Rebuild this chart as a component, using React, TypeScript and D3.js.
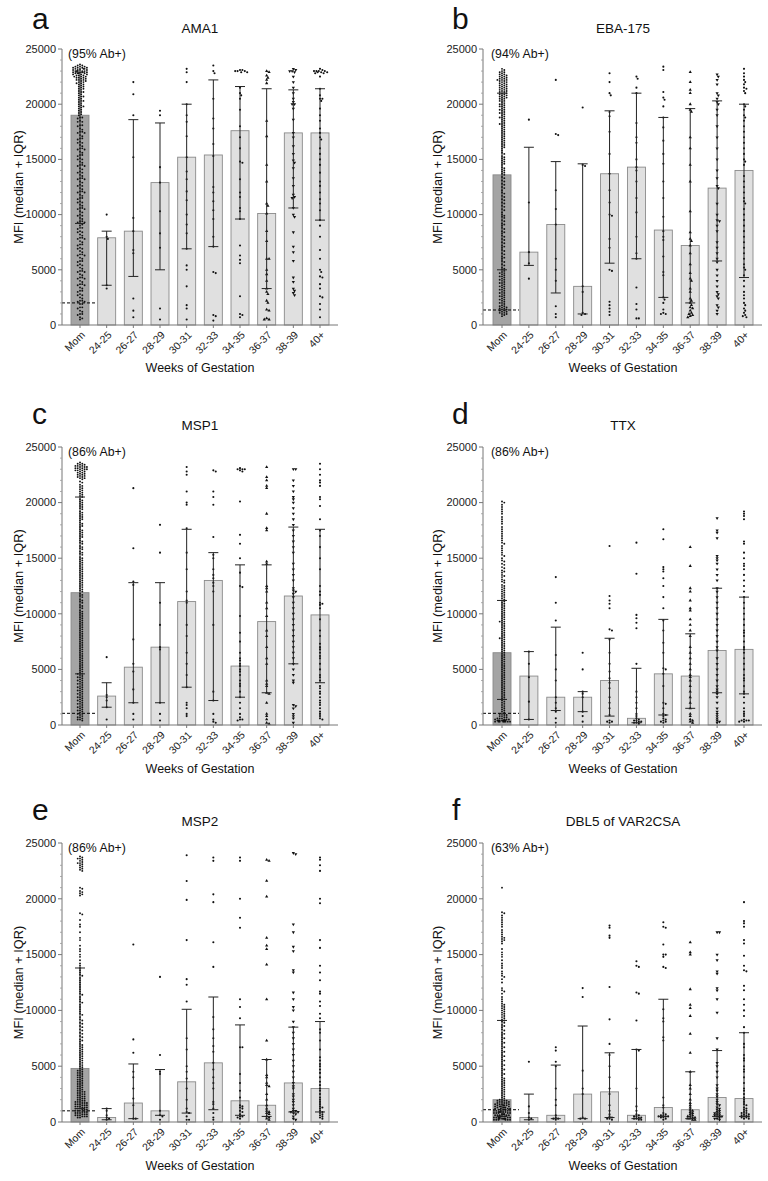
import React from 'react';
import * as d3 from 'd3';

// ---------------- DATA ----------------
const categories = ['Mom', '24-25', '26-27', '28-29', '30-31', '32-33', '34-35', '36-37', '38-39', '40+'];
const yTicks = [0, 5000, 10000, 15000, 20000, 25000];
const yMinorStep = 1000;

const panelLetters = ['a', 'b', 'c', 'd', 'e', 'f'];
const panelTitles = ['AMA1', 'EBA-175', 'MSP1', 'TTX', 'MSP2', 'DBL5 of VAR2CSA'];
const abPositive = ['(95% Ab+)', '(94% Ab+)', '(86% Ab+)', '(86% Ab+)', '(86% Ab+)', '(63% Ab+)'];
const cutoffs = [2000, 1360, 1050, 1050, 1000, 1100];

// values in hundreds of MFI
const medians = [
  [190, 79, 85, 129, 152, 154, 176, 101, 174, 174],
  [136, 66, 91, 35, 137, 143, 86, 72, 124, 140],
  [119, 26, 52, 70, 111, 130, 53, 93, 116, 99],
  [65, 44, 25, 25, 40, 6, 46, 44, 67, 68],
  [48, 4, 17, 10, 36, 53, 19, 15, 35, 30],
  [20, 4, 6, 25, 27, 6, 13, 11, 22, 21],
];
const q1s = [
  [92, 36, 44, 50, 69, 71, 96, 33, 106, 95],
  [50, 54, 29, 10, 56, 60, 25, 20, 58, 43],
  [46, 16, 20, 20, 34, 22, 25, 29, 55, 38],
  [23, 5, 13, 12, 8, 2, 9, 15, 29, 28],
  [12, 2, 3, 6, 8, 11, 6, 5, 9, 9],
  [5, 2, 3, 3, 4, 3, 5, 3, 5, 5],
];
const q3s = [
  [229, 85, 186, 183, 200, 222, 216, 214, 213, 214],
  [210, 161, 148, 146, 194, 210, 188, 196, 203, 200],
  [205, 38, 128, 128, 176, 155, 144, 144, 178, 176],
  [112, 66, 88, 30, 78, 51, 95, 82, 123, 115],
  [138, 12, 52, 47, 101, 112, 87, 56, 85, 90],
  [91, 25, 51, 86, 62, 65, 110, 45, 64, 80],
];

const dotsAMA1 = [
  '236 235 235 234 234 234 233 233 233 233 232 232 232 232 231 231 231 231 230 230 230 230 230 229 229 229 229 228 228 228 228 227 227 227 226 226 226 225 225 225 224 224 224 223 223 222 222 222 221 221 220 220 219 219 218 218 217 216 216 215 214 214 213 212 211 211 210 209 208 207 207 206 205 204 203 203 202 201 200 199 198 198 197 196 195 194 193 192 191 190 188 188 187 185 184 184 181 181 180 178 177 175 175 174 174 172 171 169 169 168 166 165 165 163 162 160 160 159 159 157 156 154 154 153 151 150 150 148 147 145 145 144 144 142 141 139 138 138 136 135 133 133 132 132 130 129 127 126 126 124 123 121 121 120 120 118 117 115 115 114 112 111 111 109 108 106 106 105 105 103 102 100 99 99 97 96 94 94 93 93 92 91 90 88 88 87 85 84 84 82 81 79 79 78 78 76 75 73 73 72 70 69 69 67 66 64 64 63 63 61 60 58 58 57 55 54 54 52 51 49 49 48 48 46 45 43 43 42 42 40 39 37 37 36 36 34 33 31 31 30 28 27 27 25 24 22 22 21 21 19 19 16 16 15 13 12 10 10 9 7 6 5',
  '100 80 78 36 33',
  '220 209 190 152 97 85 68 65 24 13 7',
  '194 190 143 129 103 83 70 15 5',
  '232 229 220 200 190 184 171 152 139 132 121 113 100 91 83 69 54 50 35 18 15 5',
  '235 230 228 205 187 178 164 153 125 120 112 104 96 80 71 48 47 9 8 4',
  '231 231 230 230 230 229 229 215 210 208 205 195 180 170 160 148 147 132 120 116 106 103 96 72 63 59 56 26 10 9 7',
  '230 229 226 224 222 219 185 171 145 130 110 108 101 85 76 60 60 50 46 40 33 30 28 22 20 14 13 6 5 5',
  '232 231 230 230 229 225 220 215 210 205 202 200 200 196 186 174 170 162 155 149 147 142 133 126 118 116 115 106 100 98 84 71 66 58 43 39 33 31 29 27',
  '232 231 230 230 230 230 229 229 229 228 228 225 214 208 205 205 203 196 190 185 178 174 170 168 160 155 150 145 138 130 126 120 114 110 104 95 90 80 68 60 50 48 44 43 37 33 26 25 19 14 7',
];
const dotsEBA175 = [
  '232 231 230 229 229 228 227 227 226 226 225 225 224 224 223 223 222 222 222 221 221 220 220 219 219 218 218 217 217 216 216 215 215 214 214 213 213 212 212 211 211 210 210 209 209 208 208 207 207 206 206 205 205 204 203 203 202 201 200 200 199 198 198 197 196 195 195 194 193 192 192 191 190 189 188 188 187 186 185 184 183 182 182 181 180 179 178 177 176 175 174 173 172 171 170 169 168 167 166 165 164 163 162 161 160 158 156 155 153 152 151 150 149 148 147 146 145 143 142 141 140 139 138 137 136 134 133 131 130 128 127 125 124 122 120 119 117 116 114 113 111 110 108 107 105 104 102 100 99 98 97 95 94 92 91 90 88 87 85 84 83 81 80 78 77 75 74 72 71 70 68 67 65 64 62 61 60 58 57 55 54 52 51 50 49 48 47 47 46 45 44 44 43 42 41 41 40 39 38 38 37 36 35 35 34 33 32 32 31 30 29 29 28 27 26 26 25 24 23 23 22 21 20 20 19 18 17 17 16 16 15 15 14 14 13 13 12 12 11 11 10 10 9 8',
  '186 111 66 56 42',
  '222 173 172 122 105 91 60 50 40 17 10 7',
  '197 145 144 35 30 11 10 9',
  '228 220 210 208 193 189 175 155 137 122 111 100 99 78 70 50 49 21 18 15 12 9',
  '225 223 215 210 183 170 165 150 143 140 130 115 102 80 65 60 34 19 14 6 6',
  '234 231 211 206 204 198 188 179 167 155 146 130 115 98 85 80 77 62 48 45 25 23 20 14 11 10 10',
  '229 220 213 210 200 195 193 170 160 145 130 103 84 78 76 72 65 55 47 42 40 33 30 24 22 20 18 16 15 13 11 10 9 8 7',
  '227 225 222 218 210 208 205 202 200 195 190 180 170 160 150 140 133 126 124 110 100 95 94 90 85 75 70 65 60 57 50 45 40 35 30 28 26 24 18 16 13 10',
  '232 228 225 222 220 218 215 214 212 210 200 198 195 190 188 185 180 175 170 165 160 155 150 148 145 135 130 125 120 115 112 110 105 100 95 90 85 80 75 70 65 60 55 52 50 45 40 35 30 27 24 20 18 15 13 11 9 8 7',
];
const dotsMSP1 = [
  '236 235 235 234 234 233 233 233 232 232 232 231 231 231 230 230 230 229 229 229 228 228 227 227 226 226 225 225 224 224 223 223 222 222 221 219 218 216 215 214 213 212 211 210 209 208 207 206 205 203 202 201 200 199 198 197 196 195 194 192 191 190 189 188 187 186 185 184 182 181 180 179 178 176 175 174 173 172 171 170 169 168 166 165 164 163 161 160 159 158 156 155 154 153 151 150 149 148 147 146 145 144 143 142 141 140 139 138 137 136 135 134 133 132 131 130 129 128 127 126 125 124 123 122 121 120 118 117 116 115 113 112 111 110 108 107 106 105 103 102 101 100 99 98 97 96 95 94 93 92 91 90 89 88 87 86 85 84 83 82 81 80 79 78 77 76 75 74 73 72 71 70 69 68 67 66 65 64 63 62 61 60 59 58 57 56 55 54 53 52 51 50 49 48 47 46 46 45 44 43 43 42 41 40 40 39 38 37 37 36 35 34 34 33 32 31 31 30 29 28 28 27 26 25 25 24 23 22 22 21 20 19 19 18 17 16 16 15 14 13 13 12 11 10 10 9 8 7 7 6 5 5 4',
  '61 27 25 22 16 5',
  '213 159 129 126 77 55 48 32 20 10 5',
  '180 155 110 90 70 68 20 10 4',
  '232 228 225 210 200 198 177 155 140 120 112 110 90 80 65 55 45 34 20 18 15 10 8',
  '229 228 210 205 198 169 153 150 140 135 132 128 125 120 90 30 22 10 5 3 2',
  '231 230 230 230 229 228 201 171 163 150 137 125 124 98 83 75 65 60 58 55 53 50 48 45 40 37 35 30 25 20 15 10 7 5 5 4',
  '232 223 220 215 213 190 177 175 147 145 125 123 120 110 105 98 85 80 70 60 55 40 37 35 29 28 20 10 8 5 2 1',
  '230 230 220 215 210 205 203 200 195 190 185 180 175 170 165 160 155 145 140 135 130 123 121 120 118 115 110 105 100 95 90 85 80 75 70 65 60 55 50 45 40 38 18 17 15 10 8 6 2',
  '235 230 225 220 218 215 205 203 197 185 175 170 160 150 140 125 120 117 110 109 108 105 95 85 80 73 70 68 65 62 60 55 50 45 43 40 35 33 30 28 25 22 20 18 15 12 10 8 6 5',
];
const dotsTTX = [
  '201 200 198 196 194 192 190 187 185 183 181 178 176 174 172 170 168 166 164 163 161 159 157 155 153 152 150 148 147 145 144 142 141 139 138 137 135 134 133 131 130 129 128 126 125 124 123 122 121 120 119 118 117 116 115 114 113 112 111 110 109 108 107 106 105 104 103 102 101 100 99 98 97 96 95 94 93 93 92 91 90 89 88 87 86 85 84 83 82 81 80 79 78 78 77 76 75 74 73 72 71 70 69 68 67 66 65 64 63 62 61 60 59 58 57 56 55 54 53 52 51 50 49 48 47 46 45 44 43 42 41 40 39 38 37 36 35 34 33 32 31 30 29 28 27 26 25 24 23 22 21 20 19 18 17 16 15 14 13 12 11 10 10 9 9 8 8 7 7 6 6 6 5 5 5 5 4 4 4 4 4 4 4 3 3 3 3 3 3 3 3',
  '66 55 43 21 5',
  '133 110 94 63 50 40 25 20 15 12 6 2',
  '65 50 30 28 25 12 8 3',
  '161 116 112 109 105 86 85 77 65 55 48 42 38 33 25 20 15 9 4 3 3 2',
  '164 136 99 96 92 87 55 30 25 20 15 10 8 6 5 4 4 3 3 2 2 1',
  '176 167 142 140 138 132 125 115 105 94 85 74 65 51 50 46 35 20 19 15 10 9 8 6 5 4 3 3 2',
  '160 143 123 120 112 105 103 95 90 85 80 70 65 60 55 50 45 43 40 35 30 25 20 15 10 8 5 4 3 2',
  '186 175 173 168 152 150 148 145 140 135 130 123 120 115 110 105 100 95 90 85 80 75 70 67 60 55 50 45 40 35 32 30 28 25 20 15 12 10 8 6 4 3 2',
  '192 190 188 185 165 163 155 150 145 143 140 135 130 125 120 115 110 105 100 95 90 85 83 80 75 70 68 65 60 55 50 45 42 40 35 30 28 25 20 15 12 10 8 5 4 4 4 3 3',
];
const dotsMSP2 = [
  '238 237 236 236 235 234 233 232 232 231 230 229 228 227 226 225 210 209 207 206 205 204 203 187 186 181 177 175 170 165 163 158 155 153 150 148 145 142 140 138 136 134 132 131 129 127 125 123 121 119 117 115 114 112 110 108 107 105 103 101 99 97 96 94 92 91 89 88 86 85 83 82 80 79 77 76 74 73 72 70 69 68 67 66 65 64 63 62 61 60 59 58 57 56 55 54 53 52 51 50 49 48 47 46 46 45 44 44 43 42 42 41 40 40 39 38 38 37 36 36 35 34 34 33 32 32 31 30 30 29 28 28 27 27 26 26 25 25 24 24 23 23 22 22 21 21 20 20 19 19 18 18 18 17 17 17 16 16 16 15 15 15 14 14 14 13 13 13 12 12 12 11 11 11 10 10 10 9 9 9 8 8 8 7 7 7 6 6 6 5 5 5 4 4',
  '12 10 6 4 3 2',
  '159 74 62 45 40 30 21 15 3 3',
  '130 60 45 43 10 6 5 2',
  '239 216 199 163 128 123 108 75 65 50 45 39 30 20 12 9 8 5 2 2',
  '237 234 204 197 161 139 94 83 75 68 63 53 47 40 35 30 18 16 12 8 4 2',
  '237 234 200 183 174 110 103 93 67 67 43 35 28 22 15 14 13 12 10 9 7 5 5 4 3',
  '235 234 216 202 165 158 155 141 110 73 56 42 40 35 33 32 25 20 15 12 10 9 8 7 5 4 3 2',
  '241 240 177 170 157 153 136 134 116 110 103 100 90 85 80 75 70 65 60 55 50 45 40 35 32 30 25 23 20 18 15 12 10 10 9 9 8 7 5 3 2',
  '237 235 230 225 200 196 163 156 140 134 127 117 115 108 104 97 93 83 80 73 65 58 55 52 50 47 44 40 36 33 30 28 25 22 20 18 16 14 13 12 10 9 8 7 6 5 4 3',
];
const dotsDBL5 = [
  '210 188 187 185 183 181 179 177 175 172 170 168 166 165 164 163 162 160 155 152 150 148 145 142 140 138 135 133 131 130 128 125 120 118 117 115 112 110 108 106 105 104 103 102 101 100 99 98 97 96 95 94 93 92 91 90 89 87 86 85 83 82 80 79 78 76 75 74 72 71 70 68 67 66 64 63 62 60 59 58 56 55 54 52 51 50 48 47 46 44 43 42 40 39 38 37 36 35 34 33 32 31 30 29 28 27 26 25 24 23 22 21 20 20 19 19 19 18 18 18 17 17 17 16 16 16 16 15 15 15 15 14 14 14 14 13 13 13 13 12 12 12 12 11 11 11 11 10 10 10 10 10 9 9 9 9 9 8 8 8 8 8 7 7 7 7 7 6 6 6 6 6 5 5 5 5 5 5 4 4 4 4 4 4 3 3 3 3 3 3 3 2 2 2 2 2 2',
  '54 14 8 4 3 2',
  '67 64 54 50 30 20 15 6 4 3 3 2',
  '120 112 46 30 25 4 3 3',
  '176 174 167 165 121 92 70 60 50 40 30 25 15 10 7 5 4 3 3 2',
  '144 140 139 116 115 91 65 64 30 14 10 7 6 5 5 4 4 3 3 2 2',
  '179 175 174 159 150 150 148 139 138 101 93 90 76 73 22 15 13 8 7 6 6 5 5 5 4 4 3 2',
  '161 152 150 119 105 102 95 79 62 45 33 30 25 20 17 15 13 11 10 9 8 7 6 5 5 4 4 3 3 2 2',
  '170 170 150 145 135 133 120 118 110 98 75 65 53 50 45 40 33 30 28 25 23 20 18 16 15 13 12 11 10 9 8 8 7 6 6 5 5 4 3 3 2',
  '197 180 178 175 163 160 149 140 136 135 122 118 110 105 100 95 85 80 70 67 60 57 55 50 47 45 40 35 30 28 25 22 20 18 16 15 13 12 11 10 9 8 8 7 7 6 6 5 5 4 4 3 3',
];
const panelDots = [dotsAMA1, dotsEBA175, dotsMSP1, dotsTTX, dotsMSP2, dotsDBL5];

// ---------------- LAYOUT ----------------
const FONT = "'Liberation Sans', Arial, Helvetica, sans-serif";
const colLayout = [
  { axisX: 62, xEnd: 338, c0: 80, c1: 320, ylabX: 19, titleX: 200, abX: 68, letterX: 32 },
  { axisX: 483, xEnd: 762, c0: 502, c1: 744, ylabX: 438, titleX: 623, abX: 491, letterX: 452 },
];
const rowLayout = [
  { yTop: 49, y0: 325, letterY: 29, titleY: 33, abY: 58, xlabY: 372 },
  { yTop: 447, y0: 725, letterY: 424, titleY: 430, abY: 456, xlabY: 773 },
  { yTop: 843, y0: 1122, letterY: 820, titleY: 826, abY: 852, xlabY: 1170 },
];

function beeswarm(ys: number[], r: number, maxHalf: number) {
  const idx = ys.map((y, i) => i).sort((a, b) => ys[a] - ys[b]);
  const placed: { x: number; y: number }[] = [];
  const out: { x: number; y: number }[] = new Array(ys.length);
  const d2 = (2 * r) * (2 * r);
  for (const i of idx) {
    const y = ys[i];
    let chosen = 0;
    let found = false;
    for (let k = 0; k < 40; k++) {
      const off = (k % 2 === 1 ? 1 : -1) * Math.ceil(k / 2) * r;
      if (Math.abs(off) > maxHalf) break;
      let ok = true;
      for (let j = placed.length - 1; j >= 0; j--) {
        const p = placed[j];
        const dy = y - p.y;
        if (dy > 2 * r) break;
        const dx = off - p.x;
        if (dx * dx + dy * dy < d2 * 0.85) { ok = false; break; }
      }
      if (ok) { chosen = off; found = true; break; }
    }
    if (!found) chosen = ((placed.length % 7) - 3) * r;
    const pt = { x: chosen, y };
    placed.push(pt);
    out[i] = pt;
  }
  return out;
}

function Panel({ index }: { index: number }) {
  const col = colLayout[index % 2];
  const row = rowLayout[Math.floor(index / 2)];
  const y = d3.scaleLinear().domain([0, 25000]).range([row.y0, row.yTop]);
  const x = d3.scalePoint<string>().domain(categories).range([col.c0, col.c1]);
  const barW = 18;
  const capW = 10;
  const minor = d3.range(0, 25001, yMinorStep).filter((v) => v % 5000 !== 0);
  const dotCols = panelDots[index].map((s) => s.trim().split(/\s+/).map((t) => +t * 100));
  const tri = d3.symbol(d3.symbolTriangle, 4.5)();
  return (
    <g>
      <text x={col.letterX} y={row.letterY} fontSize={30} fontFamily={FONT} fill="#111">{panelLetters[index]}</text>
      <text x={col.titleX} y={row.titleY} fontSize={13.5} fontFamily={FONT} textAnchor="middle" fill="#111">{panelTitles[index]}</text>
      {/* bars */}
      {categories.map((c, ci) => {
        const cx = x(c)!;
        const m = medians[index][ci] * 100;
        return (
          <rect key={c} x={cx - barW / 2} y={y(m)} width={barW} height={row.y0 - y(m)}
            fill={ci === 0 ? '#a4a4a4' : '#e0e0e0'} stroke="#8a8a8a" strokeWidth={0.9} />
        );
      })}
      {/* cutoff */}
      <line x1={col.axisX} x2={x('Mom')! + 17} y1={y(cutoffs[index])} y2={y(cutoffs[index])}
        stroke="#000" strokeWidth={1} strokeDasharray="3,2" />
      {/* dots */}
      {dotCols.map((vals, ci) => {
        const cx = x(categories[ci])!;
        const pts = beeswarm(vals.map((v) => y(v)), ci === 0 ? 1.15 : 1.2, ci === 0 ? 8.5 : 7.5);
        const isTri = ci === 7 || ci === 8;
        return (
          <g key={ci}>
            {pts.map((p, k) =>
              isTri ? (
                <path key={k} d={tri!} transform={`translate(${cx + p.x},${p.y})${ci === 8 ? ' rotate(180)' : ''}`} fill="#111" />
              ) : (
                <circle key={k} cx={cx + p.x} cy={p.y} r={ci === 0 ? 0.95 : 1.05} fill="#111" />
              )
            )}
          </g>
        );
      })}
      {/* error bars */}
      {categories.map((c, ci) => {
        const cx = x(c)!;
        const a = y(q1s[index][ci] * 100);
        const b = y(q3s[index][ci] * 100);
        return (
          <g key={c} stroke="#222" strokeWidth={1}>
            <line x1={cx} x2={cx} y1={a} y2={b} />
            <line x1={cx - capW / 2} x2={cx + capW / 2} y1={a} y2={a} />
            <line x1={cx - capW / 2} x2={cx + capW / 2} y1={b} y2={b} />
          </g>
        );
      })}
      {/* axes */}
      <line x1={col.axisX} x2={col.axisX} y1={row.y0} y2={row.yTop} stroke="#777" strokeWidth={1} />
      <line x1={col.axisX} x2={col.xEnd} y1={row.y0} y2={row.y0} stroke="#777" strokeWidth={1} />
      {yTicks.map((t) => (
        <g key={t}>
          <line x1={col.axisX - 4} x2={col.axisX} y1={y(t)} y2={y(t)} stroke="#777" />
          <text x={col.axisX - 6} y={y(t)} dy="0.35em" fontSize={11} fontFamily={FONT} textAnchor="end" fill="#222">{t}</text>
        </g>
      ))}
      {minor.map((t) => (
        <line key={t} x1={col.axisX - 2} x2={col.axisX} y1={y(t)} y2={y(t)} stroke="#999" strokeWidth={0.8} />
      ))}
      {categories.map((c) => {
        const cx = x(c)!;
        return (
          <g key={c}>
            <line x1={cx} x2={cx} y1={row.y0} y2={row.y0 + 3} stroke="#777" />
            <text transform={`translate(${cx + 3},${row.y0 + 8}) rotate(-45)`} dy="0.35em" fontSize={10.5}
              fontFamily={FONT} textAnchor="end" fill="#222">{c}</text>
          </g>
        );
      })}
      <text x={col.abX} y={row.abY} fontSize={12.3} fontFamily={FONT} fill="#111">{abPositive[index]}</text>
      <text x={col.titleX} y={row.xlabY} fontSize={12.5} fontFamily={FONT} textAnchor="middle" fill="#111">Weeks of Gestation</text>
      <text transform={`translate(${col.ylabX},${(row.y0 + row.yTop) / 2}) rotate(-90)`} fontSize={12.8} fontFamily={FONT}
        textAnchor="middle" dy="0.35em" fill="#111">MFI (median + IQR)</text>
    </g>
  );
}

export default function App() {
  return (
    <svg width={768} height={1181} viewBox="0 0 768 1181"
      style={{ position: 'absolute', left: 0, top: 0, background: '#fff', display: 'block' }}>
      <rect width={768} height={1181} fill="#fff" />
      {panelTitles.map((_, i) => (
        <Panel key={i} index={i} />
      ))}
    </svg>
  );
}
